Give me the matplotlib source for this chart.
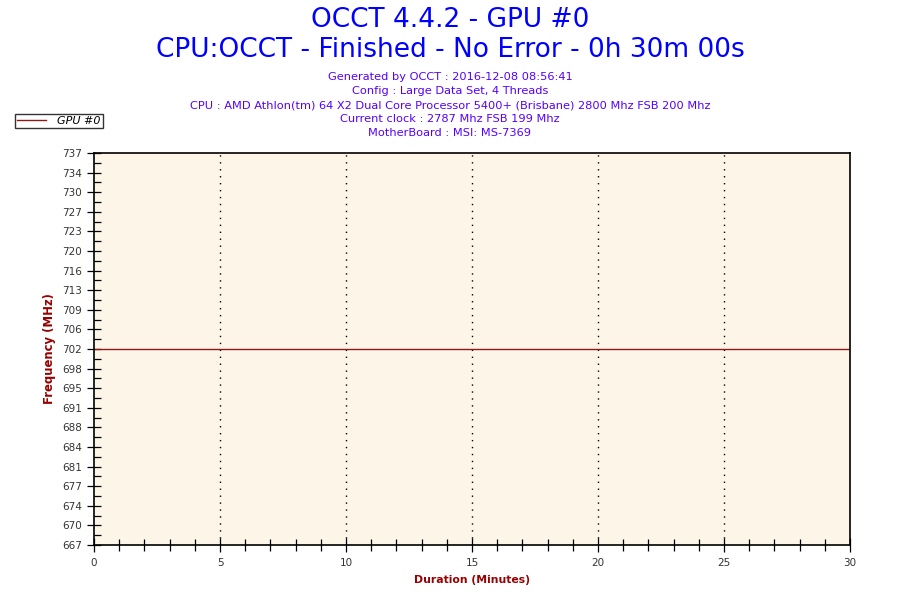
import matplotlib
matplotlib.use("Agg")
import matplotlib.pyplot as plt
from matplotlib.ticker import FixedLocator, MultipleLocator

# Data
time_min = [0, 30]
freq_mhz = [702, 702]
y_tick_vals = [667 + 3.5 * i for i in range(21)]
y_tick_labels = ["667", "670", "674", "677", "681", "684", "688", "691", "695", "698",
                 "702", "706", "709", "713", "716", "720", "723", "727", "730", "734", "737"]
x_ticks = [0, 5, 10, 15, 20, 25, 30]

plt.rcParams['font.family'] = ['DejaVu Sans']

fig = plt.figure(figsize=(9, 6), dpi=100)
ax = fig.add_axes([94/900, 55/600, 756/900, 392/600])
ax.set_facecolor('#fdf6e8')

line_color = '#8b1a1a'
ax.plot(time_min, freq_mhz, color=line_color, lw=1.0, label='GPU #0')

ax.set_xlim(0, 30)
ax.set_ylim(667, 737)
ax.set_xticks(x_ticks)
ax.set_xticklabels([str(v) for v in x_ticks])
ax.xaxis.set_minor_locator(MultipleLocator(1))
ax.yaxis.set_major_locator(FixedLocator(y_tick_vals))
ax.set_yticklabels(y_tick_labels)
ax.yaxis.set_minor_locator(FixedLocator([v + 1.75 for v in y_tick_vals[:-1]]))

ax.tick_params(axis='both', which='major', direction='inout', length=10, width=0.9,
               labelsize=7.5, labelcolor='#333333', color='black')
ax.tick_params(axis='y', which='minor', direction='in', length=5, width=0.9)
ax.tick_params(axis='x', which='minor', direction='inout', length=8, width=0.9)
ax.tick_params(axis='x', which='major', pad=4)

for s in ax.spines.values():
    s.set_color('black')
    s.set_linewidth(1.2)

for xv in x_ticks[1:-1]:
    ax.axvline(xv, color='black', lw=1, ls=(0, (1, 4)), zorder=1)

ax.set_xlabel('Duration (Minutes)', color='#990000', fontweight='bold', fontsize=7.8)
ax.set_ylabel('Frequency (MHz)', color='#990000', fontweight='bold', fontsize=8.4)
ax.yaxis.set_label_coords(-38/756, 0.5)
ax.xaxis.set_label_coords(0.5, -30/392)

fig.text(0.5, 1 - 20/600, 'OCCT 4.4.2 - GPU #0', ha='center', va='center',
         fontsize=19, color='#0000ff')
fig.text(0.5, 1 - 50/600, 'CPU:OCCT - Finished - No Error - 0h 30m 00s', ha='center', va='center',
         fontsize=19, color='#0000ff')
sub = ['Generated by OCCT : 2016-12-08 08:56:41',
       'Config : Large Data Set, 4 Threads',
       'CPU : AMD Athlon(tm) 64 X2 Dual Core Processor 5400+ (Brisbane) 2800 Mhz FSB 200 Mhz',
       'Current clock : 2787 Mhz FSB 199 Mhz',
       'MotherBoard : MSI: MS-7369']
for i, t in enumerate(sub):
    fig.text(0.5, 1 - (77 + 14 * i)/600, t, ha='center', va='center',
             fontsize=8.2, color='#5500ff')

leg = fig.legend(loc='upper left', bbox_to_anchor=(15/900, 1 - 114/600), frameon=True,
                 fancybox=False, edgecolor='black', fontsize=8, handlelength=2.6,
                 borderpad=0.2, handletextpad=1.0, borderaxespad=0)
for t in leg.get_texts():
    t.set_fontstyle('italic')
leg.get_frame().set_linewidth(1)

fig.savefig('out.png', dpi=100, facecolor='white')
